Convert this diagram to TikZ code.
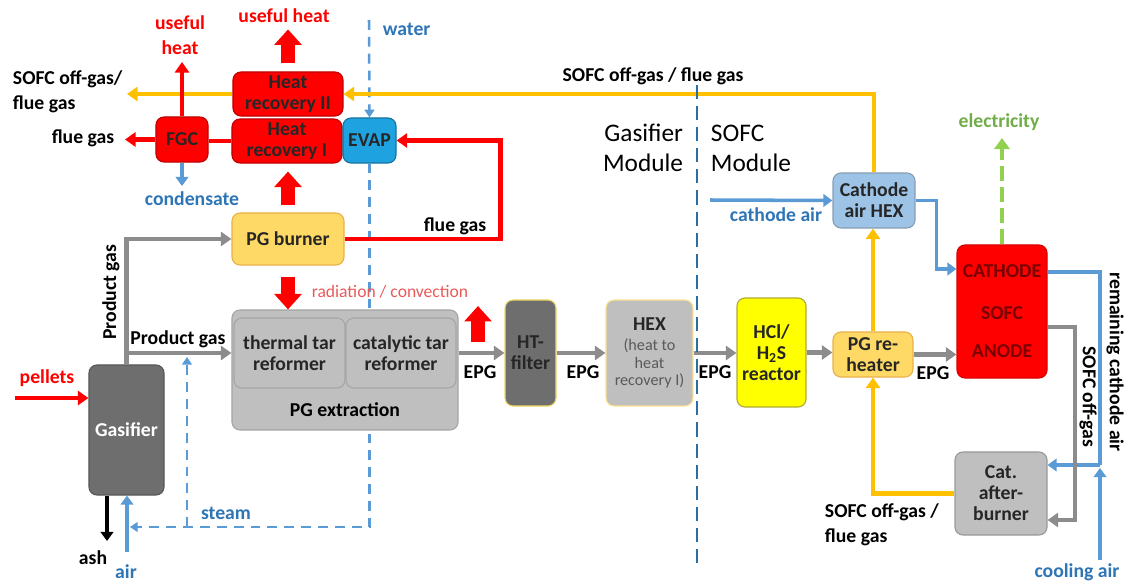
\documentclass[tikz,border=0pt]{standalone}
\usepackage{fontspec}
\setmainfont{Carlito}
\usetikzlibrary{arrows.meta,positioning,backgrounds}

\definecolor{hotred}{HTML}{FF0000}
\definecolor{boxred}{HTML}{C00000}
\definecolor{flowgrey}{HTML}{8C8C8C}
\definecolor{boxgrey}{HTML}{BFBFBF}
\definecolor{darkgrey}{HTML}{6E6E6E}
\definecolor{offgas}{HTML}{FFC000}
\definecolor{burnerfill}{HTML}{FFD966}
\definecolor{burnerborder}{HTML}{E8B04A}
\definecolor{airblue}{HTML}{5B9BD5}
\definecolor{textblue}{HTML}{2E75B6}
\definecolor{evapblue}{HTML}{1FA3E0}
\definecolor{hexblue}{HTML}{9DC3E6}
\definecolor{divblue}{HTML}{2A6EA6}
\definecolor{elgreen}{HTML}{92D050}
\definecolor{elgreentext}{HTML}{70AD47}
\definecolor{reactor}{HTML}{FFFF00}
\definecolor{sofctext}{HTML}{7A0000}
\definecolor{radred}{HTML}{E85A5A}

\begin{document}
\begin{tikzpicture}[x=0.025cm, y=-0.025cm,
  font=\fontsize{14}{17.5}\selectfont\bfseries,
  unit/.style={draw, rounded corners=0.2cm, align=center, inner sep=0pt, line width=0.8pt,
    text=black!85, font=\fontsize{14}{15}\selectfont\bfseries},
  redunit/.style={unit, fill=hotred, draw=boxred},
  greyunit/.style={unit, fill=boxgrey, draw=black!35},
  flow/.style={line width=3.2pt, -{Triangle[width=10pt,length=7.5pt]}},
  gasflow/.style={flow, flowgrey},
  heatflow/.style={flow, hotred},
  heatline/.style={line width=3.2pt, hotred},
  fgflow/.style={flow, offgas},
  airflow/.style={line width=2.5pt, airblue, -{Triangle[width=9pt,length=6.5pt]}},
  airline/.style={line width=2.5pt, airblue},
  steamline/.style={line width=1.8pt, airblue, dash pattern=on 7pt off 5pt, -{Triangle[width=7pt,length=5.5pt]}},
  fat/.style={line width=9.5pt, hotred, -{Triangle[width=19pt,length=11pt]}},
  elflow/.style={line width=3.5pt, elgreen, dash pattern=on 11pt off 4pt, -{Triangle[width=11pt,length=8pt]}},
  divider/.style={line width=1.9pt, divblue, dash pattern=on 10pt off 5pt},
  bluelab/.style={text=textblue},
  heatlab/.style={text=hotred, align=center},
]
\useasboundingbox (0,0) rectangle (1124,583);

% --- Heat recovery ---
\node[redunit, minimum width=2.75cm, minimum height=1.1cm] (hr2) at (288,94) {Heat\\recovery II};
\node[redunit, minimum width=2.75cm, minimum height=1.1cm] (hr1) at (287,141) {Heat\\recovery I};
\node[redunit, minimum width=1.3cm, minimum height=1.125cm] (fgc) at (182,139.5) {FGC};
\node[unit, fill=evapblue, draw=evapblue!70!black, minimum width=1.325cm, minimum height=1.125cm] (evap) at (369.5,140.5) {EVAP};
\node[unit, fill=burnerfill, draw=burnerborder, minimum width=2.8cm, minimum height=1.3cm] (burner) at (288,239) {PG burner};

% --- Gasifier module ---
\node[greyunit, minimum width=5.65cm, minimum height=3cm] (extraction) at (345,370) {};
\node[greyunit, minimum width=2.775cm, minimum height=1.75cm] (thermal) at (289.5,353) {thermal tar\\reformer};
\node[greyunit, minimum width=2.75cm, minimum height=1.75cm] (catalytic) at (401,353) {catalytic tar\\reformer};
\node (pgext) at (345,410) {PG extraction};
\node[unit, fill=darkgrey, draw=darkgrey!80!black, text=white, minimum width=1.875cm, minimum height=3.25cm] (gasifier) at (126.5,430) {Gasifier};
\node[unit, fill=darkgrey, draw=yellow!60!brown!70, minimum width=1.275cm, minimum height=2.65cm] (htfilter) at (530.5,353) {HT-\\filter};
\node[unit, fill=boxgrey, draw=yellow!50!orange!40, minimum width=2.175cm, minimum height=2.65cm,
  font=\mdseries\fontsize{11.5}{12.2}\selectfont, text=black!65] (hex) at (649.5,353)
  {{\bfseries\fontsize{14}{12.2}\selectfont\color{black!85}HEX}\\[2pt](heat to\\heat\\recovery I)};

% --- SOFC module ---
\node[unit, fill=reactor, draw=olive!70, minimum width=1.725cm, minimum height=2.725cm] (hcl) at (771.5,352.5) {HCl/\\H\textsubscript{2}S\\reactor};
\node[unit, fill=burnerfill, draw=burnerborder, minimum width=2cm, minimum height=1.125cm] (reheater) at (873,354.5) {PG re-\\heater};
\node[unit, fill=hexblue, draw=airblue!60!black!60, minimum width=2.05cm, minimum height=1.375cm] (cahex) at (874,200.5) {Cathode\\air HEX};
\node[redunit, draw=red!85!black, text=sofctext, minimum width=2.25cm, minimum height=3.325cm] (sofc) at (1002,311.5) {CATHODE\\[15pt]SOFC\\[12pt]ANODE};
\node[greyunit, draw=black!40, minimum width=2.3cm, minimum height=2.075cm] (afterburner) at (1001,493.5) {Cat.\\after-\\burner};

% --- Labels ---
\node[heatlab] (usefulheatl) at (180,35) {useful\\heat};
\node[heatlab] (usefulheatr) at (284,16) {useful heat};
\node[anchor=west, align=left] (offgasleft) at (8,92) {SOFC off-gas/\\flue gas};
\node (fluegasleft) at (83,138) {flue gas};
\node[bluelab] (condensate) at (192,199) {condensate};
\node[bluelab, anchor=west] (water) at (378,29) {water};
\node (fluegasright) at (455,226) {flue gas};
\node[text=radred, font=\mdseries\fontsize{12.5}{14}\selectfont] (radconv) at (390,292) {radiation / convection};
\node[rotate=90] (pgvert) at (111,292) {Product gas};
\node (pghoriz) at (178,339) {Product gas};
\node[text=hotred] (pellets) at (47,378) {pellets};
\node (ash) at (93,558) {ash};
\node[bluelab] (air) at (126,572) {air};
\node[bluelab] (steam) at (226,513) {steam};
\node (epga) at (480,372) {EPG};
\node (epgb) at (583,372) {EPG};
\node (epgc) at (715,372) {EPG};
\node (epgd) at (933,373) {EPG};
\node (topoffgas) at (653,76) {SOFC off-gas / flue gas};
\node[font=\mdseries\fontsize{18}{21.5}\selectfont, anchor=east, align=right] (gasmod) at (688,148) {Gasifier\\Module};
\node[font=\mdseries\fontsize{18}{21.5}\selectfont, anchor=west, align=left] (sofcmod) at (706,148) {SOFC\\Module};
\node[bluelab] (cathodeair) at (776,215) {cathode air};
\node[text=elgreentext] (electricity) at (999,122) {electricity};
\node[anchor=west, align=left] (offgasbottom) at (820,525) {SOFC off-gas /\\flue gas};
\node[rotate=-90] (remaining) at (1115,362) {remaining cathode air};
\node[rotate=-90] (offgasvert) at (1088,397) {SOFC off-gas};
\node[bluelab] (coolingair) at (1077,572) {cooling air};

% free ends
\coordinate (offgasend) at (127,94);
\coordinate (fluegasend) at (125,139);
\coordinate (usefulend) at (183,62);
\coordinate (condend) at (183,186);
\coordinate (waterin) at (369,20);
\coordinate (steamair) at (130,527);
\coordinate (steamsplit) at (187,527);
\coordinate (steamtip) at (187,357);
\coordinate (pelletsin) at (15,398);
\coordinate (airin) at (127,552);
\coordinate (ashout) at (107,541);
\coordinate (pgsplit) at (gasifier.north |- thermal.west);
\coordinate (cathodeairin) at (710,200);
\coordinate (elecout) at (1000,138);
\coordinate (coolingin) at (1100,560);
\coordinate (airjoin) at (1100,465);
\coordinate (divtop) at (697,85);
\coordinate (divbot) at (697,570);

% --- Water / steam (behind the units) ---
\begin{pgfonlayer}{background}
  \draw[steamline] (waterin) -- (evap.north);
  \draw[steamline] (evap.south) -- (evap.south |- steamair) -- (steamair);
  \draw[steamline] (steamsplit) -- (steamtip);
\end{pgfonlayer}

% --- Heat side ---
\draw[fgflow] (cahex.north) |- (hr2.east);
\draw[fgflow] (hr2.west) -- (offgasend);
\draw[heatline] (hr1.west) -- (hr1.west -| fgc.east);
\draw[heatflow] (fgc.west) -- (fgc.west -| fluegasend);
\draw[heatflow] (fgc.north) -- (fgc.north |- usefulend);
\draw[airflow] (fgc.south) -- (fgc.south |- condend);
\draw[heatflow] (burner.east) -- ++(156,0) |- (evap.east);
\draw[fat, shorten <=0.2cm] (hr2.north) -- ++(0,-42);
\draw[fat, shorten <=0.175cm, shorten >=0.2cm] (burner.north) -- (burner.north |- hr1.south);
\draw[fat, shorten <=0.275cm] (burner.south) -- (burner.south |- extraction.north);
\draw[fat] (478,342) -- (478,306);

% --- Gas train ---
\draw[heatflow, line width=2.5pt] (pelletsin) -- (pelletsin -| gasifier.west);
\draw[airflow] (airin) -- (airin |- gasifier.south);
\draw[line width=2.5pt, black, -{Triangle[width=9pt,length=6.5pt]}] (ashout |- gasifier.south) -- (ashout);
\draw[gasflow] (gasifier.north) |- (burner.west);
\draw[gasflow] (pgsplit) -- (pgsplit -| extraction.west);
\draw[gasflow] (htfilter.west -| extraction.east) -- (htfilter.west);
\draw[gasflow] (htfilter.east) -- (hex.west);
\draw[gasflow] (hex.east) -- (hex.east -| hcl.west);
\draw[gasflow] (hcl.east) -- (hcl.east -| reheater.west);
\draw[gasflow] (reheater.east) -- (reheater.east -| sofc.west);

% --- SOFC side ---
\draw[fgflow] (reheater.north) -- (reheater.north |- cahex.south);
\draw[fgflow] (afterburner.west) -| (reheater.south);
\draw[airflow] (cathodeairin) -- (cahex.west);
\draw[airflow] (cahex.east) -- ++(21,0) |- (sofc.west |- 0,269);
\draw[elflow] (sofc.north) -- (sofc.north |- elecout);
\draw[airline] (sofc.east |- 0,272) -| (airjoin);
\draw[airflow] (airjoin) -- (airjoin -| afterburner.east);
\draw[airflow] (coolingin) -- (1100,468);
\draw[gasflow] (sofc.east |- 0,327) -- (1075,327) |- (afterburner.east |- 0,520);

\draw[divider] (divtop) -- (divbot);

\end{tikzpicture}
\end{document}
